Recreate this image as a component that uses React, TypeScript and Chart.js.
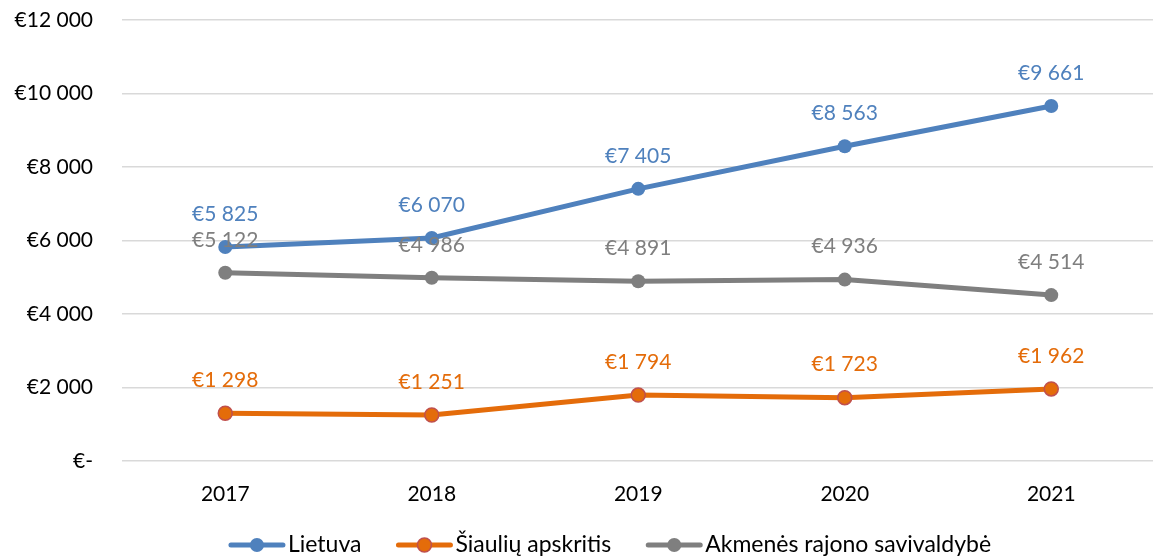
import React, { useEffect, useRef } from "react";
import { Chart, registerables } from "chart.js";

Chart.register(...registerables);

const years = ["2017", "2018", "2019", "2020", "2021"];
const lietuva = [5825, 6070, 7405, 8563, 9661];
const siauliu = [1298, 1251, 1794, 1723, 1962];
const akmenes = [5122, 4986, 4891, 4936, 4514];
const seriesNames = ["Lietuva", "Šiaulių apskritis", "Akmenės rajono savivaldybė"];
const yTicks = [0, 2000, 4000, 6000, 8000, 10000, 12000];

const BLUE = "#4f81bd";
const ORANGE = "#e46c0a";
const GRAY = "#7f7f7f";
const FONT = "Lato, 'Liberation Sans', sans-serif";

const fmt = (v: number) => {
  if (v === 0) return "€-";
  const s = Math.round(v).toString();
  return "€" + s.replace(/\B(?=(\d{3})+(?!\d))/g, " ");
};

const labelPlugin = {
  id: "dataLabels",
  afterDatasetsDraw(chart: any) {
    const ctx = chart.ctx;
    ctx.save();
    ctx.font = `21px ${FONT}`;
    ctx.textAlign = "center";
    ctx.textBaseline = "middle";
    chart.data.datasets.forEach((ds: any, i: number) => {
      const meta = chart.getDatasetMeta(i);
      ctx.fillStyle = ds.labelColor;
      meta.data.forEach((pt: any, j: number) => {
        ctx.fillText(fmt(ds.data[j]), pt.x, pt.y - 33);
      });
    });
    ctx.restore();
  },
};

const legendPlugin = {
  id: "customLegend",
  afterDraw(chart: any) {
    const ctx = chart.ctx;
    ctx.save();
    ctx.font = `23px ${FONT}`;
    ctx.textBaseline = "middle";
    ctx.textAlign = "left";
    const y = 545;
    const markerW = 56;
    const gapText = 3;
    const gapItem = 35;
    const items = chart.data.datasets.map((ds: any) => ({
      ds,
      w: markerW + gapText + ctx.measureText(ds.label).width,
    }));
    const total = items.reduce((a: number, it: any) => a + it.w, 0) + gapItem * (items.length - 1);
    let x = 610 - total / 2;
    items.forEach((it: any) => {
      const ds = it.ds;
      ctx.strokeStyle = ds.borderColor;
      ctx.lineWidth = 5;
      ctx.lineCap = "round";
      ctx.beginPath();
      ctx.moveTo(x + 2, y);
      ctx.lineTo(x + markerW - 2, y);
      ctx.stroke();
      ctx.beginPath();
      ctx.arc(x + markerW / 2, y, 7, 0, Math.PI * 2);
      ctx.fillStyle = ds.pointBackgroundColor;
      ctx.fill();
      if (ds.pointBorderColor !== ds.pointBackgroundColor) {
        ctx.lineWidth = 1.5;
        ctx.strokeStyle = ds.pointBorderColor;
        ctx.stroke();
      }
      ctx.fillStyle = "#000";
      ctx.fillText(ds.label, x + markerW + gapText, y);
      x += it.w + gapItem;
    });
    ctx.restore();
  },
};

export default function App() {
  const ref = useRef<HTMLCanvasElement>(null);
  useEffect(() => {
    document.body.style.margin = "0";
    const mk = (label: string, data: number[], color: string, border: string) => ({
      label,
      data,
      borderColor: color,
      backgroundColor: color,
      pointBackgroundColor: color,
      pointBorderColor: border,
      pointBorderWidth: border === color ? 0 : 1.5,
      pointRadius: 7,
      pointHoverRadius: 7,
      borderWidth: 5,
      tension: 0,
      labelColor: color,
    });
    const chart = new Chart(ref.current!, {
      type: "line",
      data: {
        labels: years,
        datasets: [
          mk(seriesNames[0], lietuva, BLUE, BLUE),
          mk(seriesNames[1], siauliu, ORANGE, "#c0504d"),
          mk(seriesNames[2], akmenes, GRAY, GRAY),
        ] as any,
      },
      options: {
        responsive: false,
        animation: false,
        layout: { padding: { top: 0, left: 0, right: 0, bottom: 0 } },
        plugins: { legend: { display: false }, tooltip: { enabled: false } },
        scales: {
          x: {
            offset: true,
            grid: { display: false },
            border: { display: false },
            ticks: { color: "#000", font: { family: FONT, size: 21 }, padding: 13 },
            afterFit: (s: any) => {
              s.height = 95;
            },
          },
          y: {
            min: 0,
            max: 12000,
            afterBuildTicks: (s: any) => {
              s.ticks = yTicks.map((v) => ({ value: v }));
            },
            grid: { color: "#d9d9d9", lineWidth: 1.5, drawTicks: false },
            border: { display: false },
            ticks: {
              color: "#000",
              font: { family: FONT, size: 21 },
              padding: 29,
              callback: (v: any) => fmt(Number(v)),
            },
            afterFit: (s: any) => {
              s.width = 122;
              s.paddingTop = 20;
              s.paddingBottom = 12;
            },
          },
        },
      },
      plugins: [labelPlugin, legendPlugin],
    });
    return () => chart.destroy();
  }, []);
  return (
    <div style={{ position: "absolute", left: 0, top: 0, width: 1153, height: 556, overflow: "hidden", background: "#fff" }}>
      <canvas ref={ref} width={1163} height={556} style={{ width: 1163, height: 556, display: "block" }} />
    </div>
  );
}
